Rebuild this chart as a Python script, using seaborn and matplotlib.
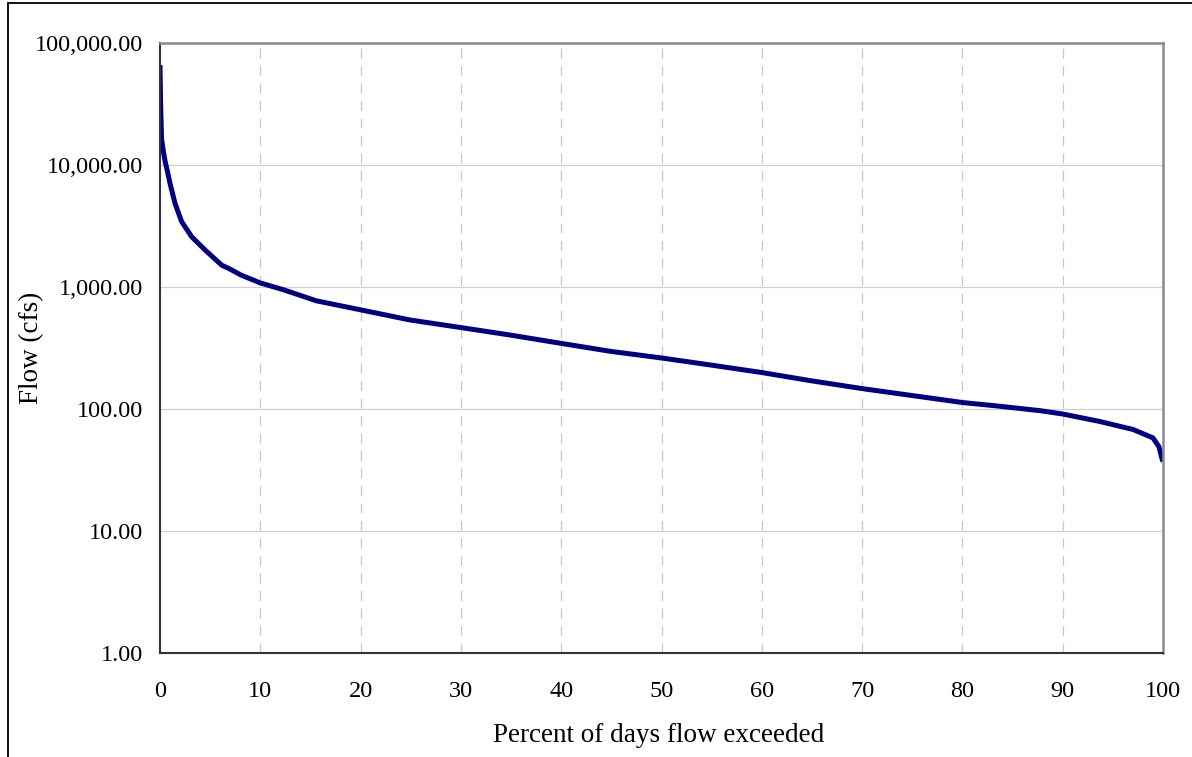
import matplotlib
matplotlib.use("Agg")
import matplotlib.pyplot as plt
import seaborn as sns
import pandas as pd
from matplotlib.lines import Line2D
from matplotlib.ticker import FuncFormatter, FixedLocator, NullLocator

# Data (flow duration curve)
percent_exceeded = [0, 0.05, 0.15, 0.3, 0.5, 0.75, 1.0, 1.5, 2.16, 3.16, 4.5, 5.3, 6.15,
                    7.0, 8.1, 10, 12.3, 15.6, 20, 24.9, 30, 34.9, 40, 44.9, 50, 54.8,
                    60, 64.8, 70, 73.8, 80, 83.4, 87.7, 90, 93.7, 97, 99, 99.6, 99.85, 100]
flow_cfs = [66000, 35000, 16500, 13500, 10800, 8800, 7070, 4840, 3430, 2580, 2010,
            1750, 1510, 1400, 1250, 1080, 950, 770, 650, 537, 465, 404, 345, 297,
            262, 230, 199, 171, 147, 133, 113, 106, 97, 91, 79, 68, 58, 49, 40.5, 37]

x_ticks = [0, 10, 20, 30, 40, 50, 60, 70, 80, 90, 100]
y_ticks = [1, 10, 100, 1000, 10000, 100000]

df = pd.DataFrame({"pct": percent_exceeded, "flow": flow_cfs})

sns.set_style("white")
plt.rcParams["font.family"] = ["Liberation Serif", "DejaVu Serif"]

W, H = 1192, 757
fig = plt.figure(figsize=(W / 100, H / 100), dpi=100)
ax = fig.add_axes([160 / W, 1 - 653 / H, 1003 / W, 610 / H])

sns.lineplot(data=df, x="pct", y="flow", ax=ax, color="#000080", linewidth=3.6,
             estimator=None, sort=False)
ax.lines[0].set_solid_joinstyle("round")
ax.lines[0].set_solid_capstyle("butt")

ax.set_yscale("log")
ax.set_xlim(0, 100)
ax.set_ylim(1, 100000)
ax.xaxis.set_major_locator(FixedLocator(x_ticks))
ax.yaxis.set_major_locator(FixedLocator(y_ticks))
ax.yaxis.set_minor_locator(NullLocator())
ax.xaxis.set_minor_locator(NullLocator())
ax.yaxis.set_major_formatter(FuncFormatter(lambda v, p: f"{v:,.2f}"))
ax.xaxis.set_major_formatter(FuncFormatter(lambda v, p: f"{v:g}"))

# Gridlines
for yv in y_ticks[1:-1]:
    ax.axhline(yv, color="#d0d0d0", linewidth=0.9, zorder=0)
for xv in x_ticks[1:-1]:
    ax.axvline(xv, color="#c8c8c8", linewidth=0.9, linestyle=(0, (8, 6)), zorder=0)

ax.tick_params(axis="both", direction="out", length=7, width=1.2, color="#333333",
               labelsize=17.5, labelcolor="black")
ax.tick_params(axis="x", pad=13)
ax.tick_params(axis="y", pad=5)

for side in ["left", "bottom"]:
    ax.spines[side].set_color("#333333")
    ax.spines[side].set_linewidth(1.5)
for side in ["top", "right"]:
    ax.spines[side].set_color("#8a8a8a")
    ax.spines[side].set_linewidth(1.8)
    ax.spines[side].set_visible(True)

ax.set_xlabel("Percent of days flow exceeded", fontsize=19.5, color="black")
ax.set_ylabel("Flow (cfs)", fontsize=19.5, color="black")
ax.xaxis.set_label_coords((659 - 160) / 1003, (653 - 735) / 610)
ax.yaxis.set_label_coords((32 - 160) / 1003, 0.5)
ax.xaxis.label.set_va("center")
ax.yaxis.label.set_va("center")

# Outer chart-area border (cut off at right and bottom in the reference)
fx = 8 / W
fy = 1 - 3 / H
fig.add_artist(Line2D([fx, 1.0], [fy, fy], transform=fig.transFigure, color="black", linewidth=1.3))
fig.add_artist(Line2D([fx, fx], [0, fy], transform=fig.transFigure, color="black", linewidth=1.3))

fig.savefig("out.png", dpi=100)
